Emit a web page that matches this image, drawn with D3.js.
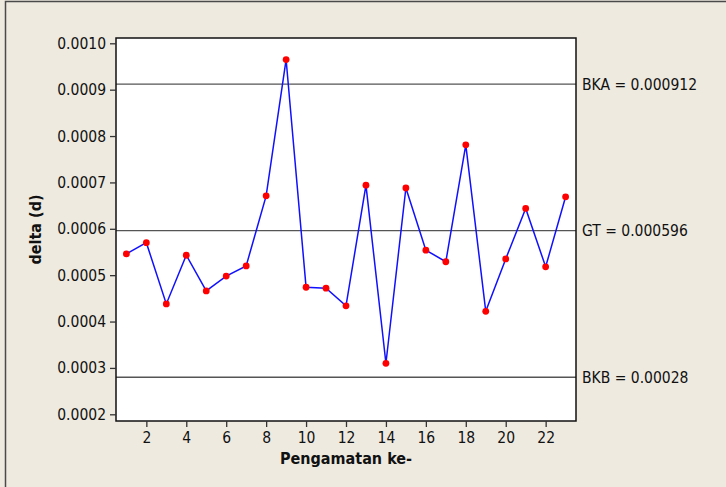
<!DOCTYPE html>
<html>
<head>
<meta charset="utf-8">
<script src="https://cdn.jsdelivr.net/npm/d3@7"></script>
<style>
  html, body { margin: 0; padding: 0; background: #eeeae0; }
  svg { display: block; }
  text { font-family: "DejaVu Sans Condensed", "DejaVu Sans", sans-serif; fill: #111; }
</style>
</head>
<body>
<div id="chart"></div>
<script>
// Observation numbers and the measured delta (d) values
const observations = d3.range(1, 24);
const deltaValues = [
  0.000546, 0.000570, 0.000438, 0.000543, 0.000466, 0.000498, 0.000520, 0.000671,
  0.000965, 0.000474, 0.000472, 0.000434, 0.000694, 0.000310, 0.000688, 0.000554,
  0.000529, 0.000781, 0.000422, 0.000535, 0.000644, 0.000518, 0.000669
];

// Control limits: upper (BKA), centre (GT) and lower (BKB)
const limitNames = ["BKA", "GT", "BKB"];
const limitValues = [0.000912, 0.000596, 0.00028];
const limitLabels = ["0.000912", "0.000596", "0.00028"];

// Axis ticks
const yTicks = [0.0002, 0.0003, 0.0004, 0.0005, 0.0006, 0.0007, 0.0008, 0.0009, 0.0010];
const xTicks = [2, 4, 6, 8, 10, 12, 14, 16, 18, 20, 22];

const W = 726, H = 487;
const plot = { left: 116, right: 576, top: 38, bottom: 421 };

const svg = d3.select("#chart").append("svg")
  .attr("width", W).attr("height", H);

svg.append("rect").attr("width", W).attr("height", H).attr("fill", "#eeeae0");

// Outer panel edge (left and top)
svg.append("path")
  .attr("d", `M5.5,${H} V1.5 H${W}`)
  .attr("fill", "none").attr("stroke", "#4a4a4a").attr("stroke-width", 1.5);

const x = d3.scaleLinear().domain([0.48, 23.52]).range([plot.left, plot.right]);
const y = d3.scaleLinear().domain([0.0002, 0.0010]).range([414.3, 43.3]);

// Plot area
svg.append("rect")
  .attr("x", plot.left).attr("y", plot.top)
  .attr("width", plot.right - plot.left).attr("height", plot.bottom - plot.top)
  .attr("fill", "#ffffff");

// Control limit lines
svg.append("g").selectAll("line").data(limitValues).join("line")
  .attr("x1", plot.left).attr("x2", plot.right)
  .attr("y1", d => y(d)).attr("y2", d => y(d))
  .attr("stroke", "#555").attr("stroke-width", 1.4);

// Data line and points
const line = d3.line().x((d, i) => x(observations[i])).y(d => y(d));
svg.append("path").datum(deltaValues)
  .attr("d", line).attr("fill", "none")
  .attr("stroke", "#1010ff").attr("stroke-width", 1.5);

svg.append("g").selectAll("circle").data(deltaValues).join("circle")
  .attr("cx", (d, i) => x(observations[i])).attr("cy", d => y(d))
  .attr("r", 3.4).attr("fill", "#ff0000");

// Plot frame
svg.append("rect")
  .attr("x", plot.left).attr("y", plot.top)
  .attr("width", plot.right - plot.left).attr("height", plot.bottom - plot.top)
  .attr("fill", "none").attr("stroke", "#111").attr("stroke-width", 1.5);

// Y axis
const yAxis = svg.append("g")
  .attr("transform", `translate(${plot.left},0)`)
  .call(d3.axisLeft(y).tickValues(yTicks).tickFormat(d3.format(".4f")).tickSize(6).tickPadding(4));
yAxis.select(".domain").remove();

// X axis
const xAxis = svg.append("g")
  .attr("transform", `translate(0,${plot.bottom})`)
  .call(d3.axisBottom(x).tickValues(xTicks).tickFormat(d3.format("d")).tickSize(6).tickPadding(5));
xAxis.select(".domain").remove();

[yAxis, xAxis].forEach(g => {
  g.selectAll(".tick line").attr("stroke", "#333").attr("stroke-width", 1.3);
  g.selectAll(".tick text")
    .style("font-family", '"DejaVu Sans Condensed", "DejaVu Sans", sans-serif')
    .style("font-size", "15.5px").attr("fill", "#111");
});

// Limit labels on the right
svg.append("g").selectAll("text").data(limitValues).join("text")
  .attr("x", plot.right + 6).attr("y", d => y(d))
  .attr("dy", "0.36em")
  .style("font-size", "15.5px")
  .text((d, i) => `${limitNames[i]} = ${limitLabels[i]}`);

// Axis titles
svg.append("text")
  .attr("x", (plot.left + plot.right) / 2).attr("y", 464)
  .attr("text-anchor", "middle")
  .style("font-size", "16px").style("font-weight", "bold")
  .text("Pengamatan ke-");

svg.append("text")
  .attr("transform", `translate(41,${(plot.top + plot.bottom) / 2}) rotate(-90)`)
  .attr("text-anchor", "middle")
  .style("font-size", "16px").style("font-weight", "bold")
  .text("delta (d)");
</script>
</body>
</html>
